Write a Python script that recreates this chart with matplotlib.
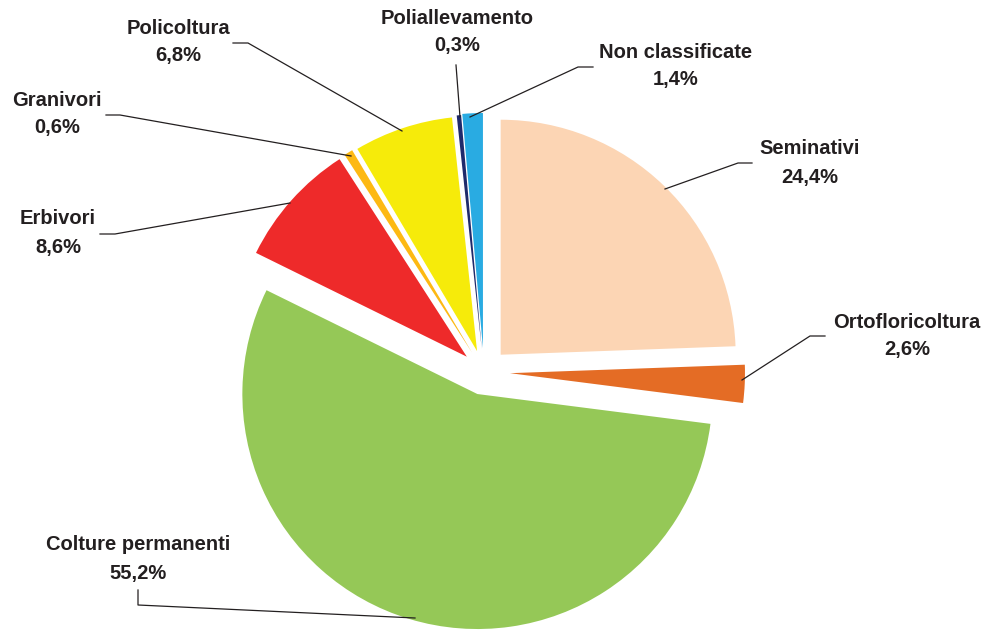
import matplotlib
matplotlib.use("Agg")
import matplotlib.pyplot as plt

categories = ["Seminativi", "Ortofloricoltura", "Colture permanenti", "Erbivori",
              "Granivori", "Policoltura", "Poliallevamento", "Non classificate"]
values = [24.4, 2.6, 55.2, 8.6, 0.6, 6.8, 0.3, 1.4]
pct_labels = ["24,4%", "2,6%", "55,2%", "8,6%", "0,6%", "6,8%", "0,3%", "1,4%"]

colors = ["#FCD5B4", "#E46C25", "#95C857", "#EE2A2A",
          "#FDB913", "#F6EB0A", "#1F2A6B", "#29ABE2"]
# offsets in pixels (matplotlib applies explode in data units)
explode = [24, 26, 23, 23, 23, 22, 23, 24]

W, H = 992, 630
fig = plt.figure(figsize=(W / 100, H / 100), dpi=100)
ax = fig.add_axes([0, 0, 1, 1])

cx, cy_px, R = 484, 372, 235
ax.pie(values, colors=colors, explode=explode, startangle=90, counterclock=False,
       center=(cx, H - cy_px), radius=R, frame=True,
       wedgeprops=dict(linewidth=0))
ax.set_xlim(0, W)
ax.set_ylim(0, H)
ax.set_aspect("equal")
ax.axis("off")

# label positions in pixel coordinates (x, y of name line, y of pct line)
label_pos = {
    "Seminativi": (810, 148, 177),
    "Ortofloricoltura": (907, 322, 350),
    "Colture permanenti": (138, 545, 573),
    "Erbivori": (58, 219, 247),
    "Granivori": (57, 100, 128),
    "Policoltura": (178, 28, 56),
    "Poliallevamento": (457, 18, 46),
    "Non classificate": (676, 53, 80),
}
leaders = {
    "Seminativi": [(752, 163), (738, 163), (665, 189)],
    "Ortofloricoltura": [(825, 336), (810, 336), (742, 380)],
    "Colture permanenti": [(138, 590), (138, 605), (415, 618)],
    "Erbivori": [(100, 234), (115, 234), (290, 203)],
    "Granivori": [(106, 115), (120, 115), (351, 156)],
    "Policoltura": [(233, 43), (248, 43), (402, 131)],
    "Poliallevamento": [(456, 65), (460, 117)],
    "Non classificate": [(593, 67), (578, 67), (470, 117)],
}

txt_color = "#231F20"
fs = 14.5
for name, pct in zip(categories, pct_labels):
    x, y1, y2 = label_pos[name]
    ax.text(x, H - y1, name, ha="center", va="center", fontsize=fs,
            fontweight="bold", color=txt_color, family="Liberation Sans")
    ax.text(x, H - y2, pct, ha="center", va="center", fontsize=fs,
            fontweight="bold", color=txt_color, family="Liberation Sans")
    pts = leaders[name]
    ax.plot([p[0] for p in pts], [H - p[1] for p in pts], color="#231F20", lw=0.9)

fig.savefig("out.png", dpi=100, facecolor="white")
